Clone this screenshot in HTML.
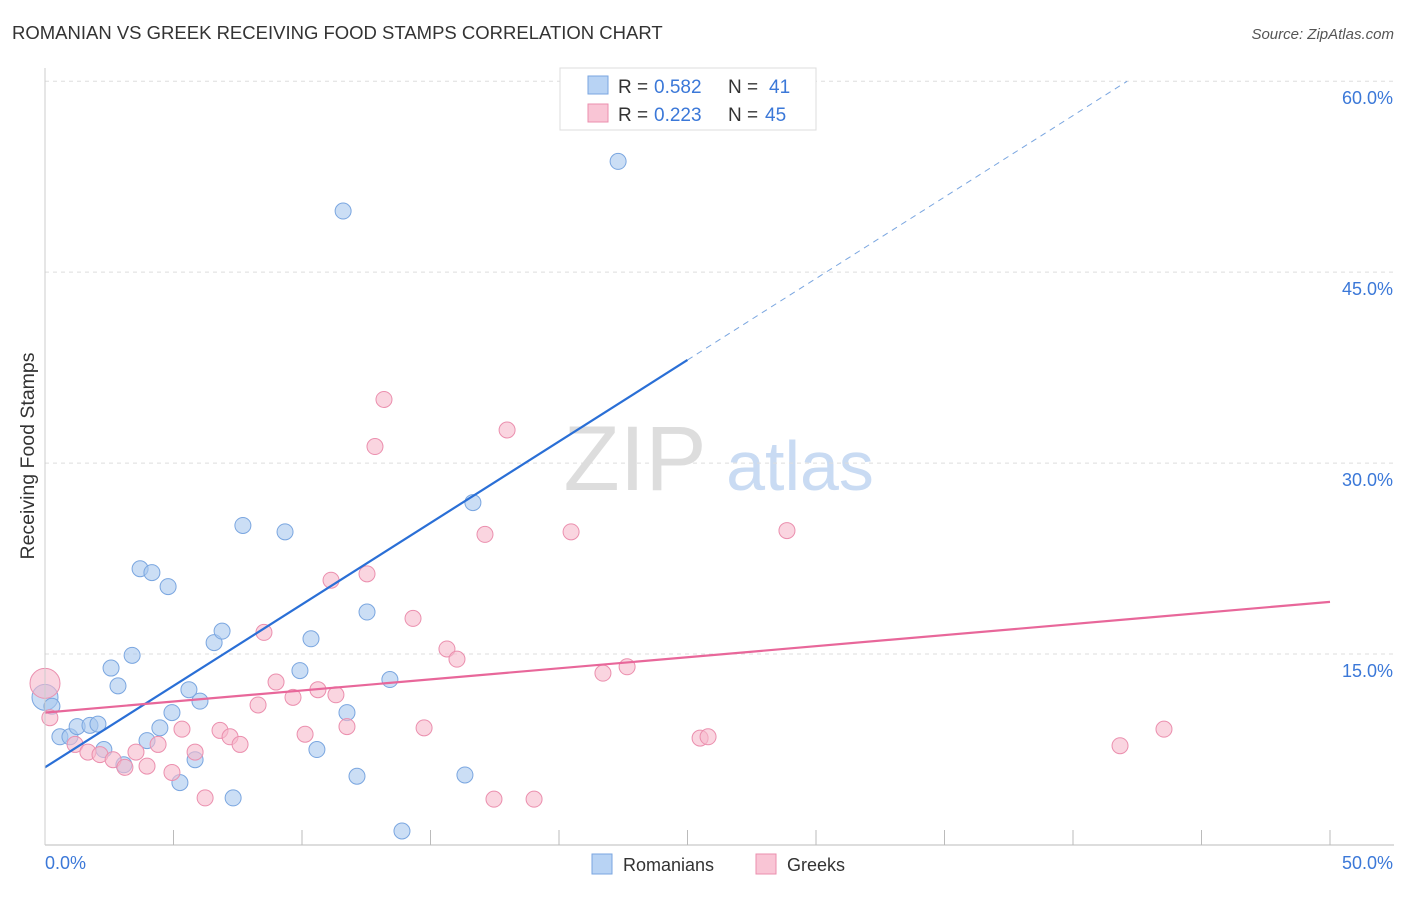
<!DOCTYPE html>
<html><head><meta charset="utf-8"><style>
body{margin:0;background:#fff;font-family:"Liberation Sans",sans-serif;}
svg text{font-family:"Liberation Sans",sans-serif;}
</style></head><body>
<svg width="1406" height="892" xmlns="http://www.w3.org/2000/svg">
<text x="12" y="39" font-size="18.5" fill="#333">ROMANIAN VS GREEK RECEIVING FOOD STAMPS CORRELATION CHART</text>
<text x="1394" y="39" font-size="15" fill="#555" font-style="italic" text-anchor="end">Source: ZipAtlas.com</text>
<text x="34" y="456" font-size="19.5" fill="#333" text-anchor="middle" transform="rotate(-90 34 456)">Receiving Food Stamps</text>
<text x="635" y="490" font-size="92" fill="#ddd" text-anchor="middle" font-family="Liberation Serif">ZIP</text>
<text x="800" y="490" font-size="70" fill="#c9dbf3" text-anchor="middle">atlas</text>
<g id="grid"></g><g id="marks"></g>
<line x1="45" y1="845" x2="1394" y2="845" stroke="#bbb"/>
<line x1="45" y1="68" x2="45" y2="845" stroke="#ccc"/>
<text x="45" y="869" font-size="18" fill="#3b78d8">0.0%</text>
<text x="1393" y="869" font-size="18" fill="#3b78d8" text-anchor="end">50.0%</text>
<g>
<rect x="560" y="68" width="256" height="62" fill="#fff" stroke="#ddd"/>
<rect x="588" y="76" width="20" height="18" fill="#b8d3f4" stroke="#7aa6e0"/>
<rect x="588" y="104" width="20" height="18" fill="#f9c5d5" stroke="#eb8fae"/>
<text x="618" y="93" font-size="19" fill="#333">R =</text>
<text x="654" y="93" font-size="19" fill="#3b78d8">0.582</text>
<text x="728" y="93" font-size="19" fill="#333">N =</text>
<text x="769" y="93" font-size="19" fill="#3b78d8">41</text>
<text x="618" y="121" font-size="19" fill="#333">R =</text>
<text x="654" y="121" font-size="19" fill="#3b78d8">0.223</text>
<text x="728" y="121" font-size="19" fill="#333">N =</text>
<text x="765" y="121" font-size="19" fill="#3b78d8">45</text>
</g>
<g>
<rect x="592" y="854" width="20" height="20" fill="#b8d3f4" stroke="#7aa6e0"/>
<text x="623" y="871" font-size="18" fill="#333">Romanians</text>
<rect x="756" y="854" width="20" height="20" fill="#f9c5d5" stroke="#eb8fae"/>
<text x="787" y="871" font-size="18" fill="#333">Greeks</text>
</g>
</svg>
<script>
const yTicks=[15,30,45,60];
const xTickVals=[0,5,10,15,20,25,30,35,40,45,50];
const romX=[0,0.27,0.58,0.97,1.25,1.75,2.06,2.29,2.57,2.84,3.07,3.39,3.7,3.97,4.16,4.47,4.79,4.94,5.25,5.6,5.84,6.03,6.58,6.89,7.32,7.7,9.34,9.92,10.35,10.58,11.6,11.75,12.14,12.53,13.42,13.89,16.34,16.65,22.3,23.2];
const romY=[11.6,10.9,8.5,8.5,9.3,9.4,9.5,7.5,13.9,12.5,6.3,14.9,21.7,8.2,21.4,9.2,20.3,10.4,4.9,12.2,6.7,11.3,15.9,16.8,3.7,25.1,24.6,13.7,16.2,7.5,49.8,10.4,5.4,18.3,13.0,1.1,5.5,26.9,53.7,59.3];
const grkX=[0,0.19,1.17,1.67,2.14,2.65,3.11,3.54,3.97,4.4,4.94,5.33,5.84,6.23,6.81,7.2,7.59,8.29,8.52,8.99,9.65,10.12,10.62,11.13,11.32,11.75,12.53,12.84,13.19,14.32,14.75,15.64,16.03,17.12,17.47,17.98,19.03,20.47,21.71,22.65,25.49,25.8,28.87,41.83,43.54];
const grkY=[12.7,10.0,7.9,7.3,7.1,6.7,6.1,7.3,6.2,7.9,5.7,9.1,7.3,3.7,9.0,8.5,7.9,11.0,16.7,12.8,11.6,8.7,12.2,20.8,11.8,9.3,21.3,31.3,35.0,17.8,9.2,15.4,14.6,24.4,3.6,32.6,3.6,24.6,13.5,14.0,8.4,8.5,24.7,7.8,9.1];
const romLine=[6.1,1.28];
const grkLine=[10.4,0.174];
const sx=v=>45+v*25.7, sy=v=>845-v*12.73;
const NS="http://www.w3.org/2000/svg";
const grid=document.getElementById('grid'), marks=document.getElementById('marks');
function mk(p,tag,a){const e=document.createElementNS(NS,tag);for(const k in a)e.setAttribute(k,a[k]);p.appendChild(e);return e;}
yTicks.forEach(v=>{
 const l=mk(grid,'line',{x1:45,x2:1394,y1:sy(v),y2:sy(v),stroke:'#ddd','stroke-dasharray':'4 4'});
 
 
 const t=mk(grid,'text',{x:1393,y:sy(v)+23,'font-size':18,fill:'#3b78d8','text-anchor':'end'});
 t.textContent=v.toFixed(1)+'%';
 
 
});
xTickVals.forEach(v=>{
 const l=mk(grid,'line',{x1:sx(v),x2:sx(v),y1:830,y2:845,stroke:'#bbb'});
 
 
});
function dots(xs,ys,fill,stroke,name){
 xs.forEach((x,i)=>{
  const c=mk(marks,'circle',{cx:sx(x),cy:sy(ys[i]),r:i==0?(name=='romanian-point'?13:15):8,fill:fill,'fill-opacity':0.6,stroke:stroke,'stroke-width':1});
  
  
 });
}
dots(romX,romY,'#a9c8ef','#7aa6e0','romanian-point');
dots(grkX,grkY,'#f7b9cc','#eb8fae','greek-point');
let l=mk(marks,'line',{x1:sx(0),y1:sy(romLine[0]),x2:sx(25),y2:sy(romLine[0]+romLine[1]*25),stroke:'#2a6fd6','stroke-width':2.2});


const xe=(60-romLine[0])/romLine[1];
l=mk(marks,'line',{x1:sx(25),y1:sy(romLine[0]+romLine[1]*25),x2:sx(xe),y2:sy(60),stroke:'#7aa6e0','stroke-width':1,'stroke-dasharray':'6 5'});


l=mk(marks,'line',{x1:sx(0),y1:sy(grkLine[0]),x2:sx(50),y2:sy(grkLine[0]+grkLine[1]*50),stroke:'#e8679a','stroke-width':2.2});


</script>
</body></html>
